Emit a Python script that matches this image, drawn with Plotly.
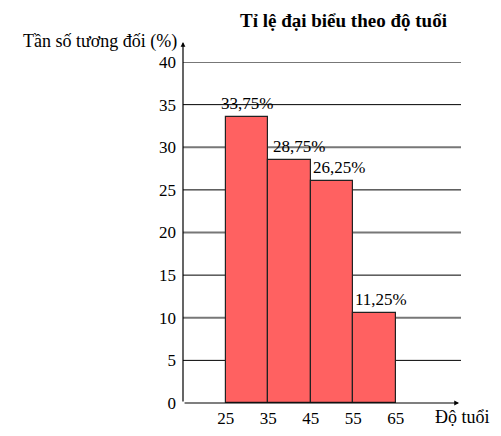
import plotly.graph_objects as go

# Data
bin_edges = [25, 35, 45, 55, 65]
bar_heights = [33.5, 28.5, 26.0, 10.5]
bar_labels = ["33,75%", "28,75%", "26,25%", "11,25%"]
y_ticks = [0, 5, 10, 15, 20, 25, 30, 35, 40]

centers = [(a + b) / 2 for a, b in zip(bin_edges[:-1], bin_edges[1:])]
widths = [b - a for a, b in zip(bin_edges[:-1], bin_edges[1:])]

FONT = "Liberation Serif"
# page has an 8px body margin; figure coordinates are page - 8
L, T, PW, PH = 175, 54, 278, 341

fig = go.Figure()
fig.add_trace(go.Bar(
    x=centers, y=bar_heights, width=widths,
    marker=dict(color="#ff6161", line=dict(color="#222222", width=1.2)),
    hoverinfo="skip",
))

shapes = []
for v in y_ticks[1:]:
    major = (v % 10 == 0)
    shapes.append(dict(
        type="line", xref="paper", yref="y", x0=0, x1=1, y0=v, y1=v,
        line=dict(color="#777777" if major else "#000000", width=2 if major else 1),
        layer="below",
    ))

annotations = []
xshifts = [0, 9, 7, 7]
for c, h, lab, xs in zip(centers, bar_heights, bar_labels, xshifts):
    annotations.append(dict(
        x=c, y=h, xref="x", yref="y", text=lab, showarrow=False,
        xanchor="center", yanchor="bottom", yshift=2, xshift=xs,
        font=dict(family=FONT, size=17, color="#000000"),
    ))

# y-axis arrow
annotations.append(dict(
    x=0, y=1.0587, xref="paper", yref="paper", ax=0, ay=361,
    text="", showarrow=True, arrowhead=2, arrowsize=0.8, arrowwidth=1.2, arrowcolor="#000000",
))
# x-axis arrow
annotations.append(dict(
    x=0.993, y=0, xref="paper", yref="paper", ax=-276, ay=0,
    text="", showarrow=True, arrowhead=2, arrowsize=0.8, arrowwidth=1.2, arrowcolor="#000000",
))
# axis titles
annotations.append(dict(
    x=0, y=1.0587, xref="paper", yref="paper", text="Tần số tương đối (%)", showarrow=False,
    xanchor="right", yanchor="middle", xshift=-4,
    font=dict(family=FONT, size=18, color="#000000"),
))
annotations.append(dict(
    x=1.0, y=0, xref="paper", yref="paper", text="Độ tuổi", showarrow=False,
    xanchor="left", yanchor="top", xshift=-28, yshift=-2,
    font=dict(family=FONT, size=18, color="#000000"),
))
annotations.append(dict(
    x=(335 - L) / PW, y=(T + PH - 12) / PH, xref="paper", yref="paper",
    text="<b>Tỉ lệ đại biểu theo độ tuổi</b>", showarrow=False,
    xanchor="center", yanchor="middle",
    font=dict(family=FONT, size=19, color="#000000"),
))

fig.update_layout(
    width=493, height=428,
    margin=dict(l=L, r=493 - L - PW, t=T, b=428 - T - PH, pad=0),
    paper_bgcolor="white", plot_bgcolor="white",
    showlegend=False,
    bargap=0,
    xaxis=dict(range=[14.9, 80.4], tickvals=bin_edges, ticktext=[str(v) for v in bin_edges],
               showgrid=False, zeroline=False, showline=False, ticks="",
               ticklabelstandoff=3, automargin=False,
               tickfont=dict(family=FONT, size=17, color="#000000")),
    yaxis=dict(range=[0, 40], tickvals=y_ticks, ticktext=[str(v) for v in y_ticks],
               showgrid=False, zeroline=False, showline=False, ticks="",
               ticklabelstandoff=6, automargin=False,
               tickfont=dict(family=FONT, size=17, color="#000000")),
    shapes=shapes,
    annotations=annotations,
)

fig.write_html("out.html")
